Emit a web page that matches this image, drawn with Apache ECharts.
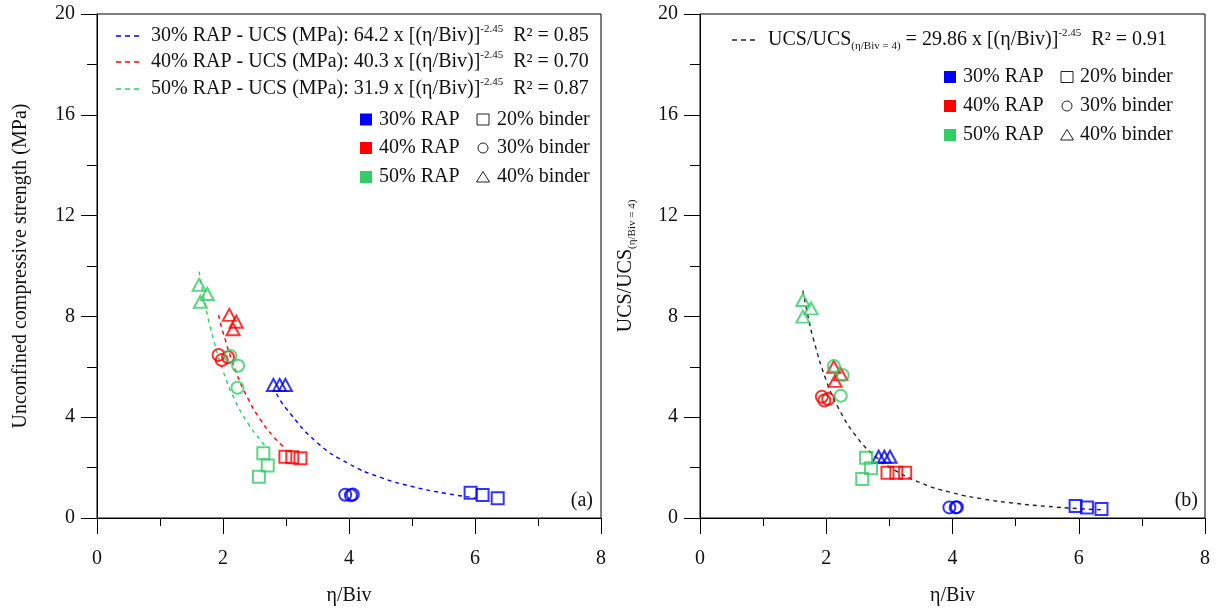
<!DOCTYPE html>
<html><head><meta charset="utf-8">
<script src="https://cdn.jsdelivr.net/npm/echarts@6/dist/echarts.min.js"></script>
<style>html,body{margin:0;padding:0;background:#fff}#c{width:1220px;height:612px}</style>
</head><body><div id="c"></div>
<script>
// ---------- tick labels ----------
const xTicks = [0, 2, 4, 6, 8];
const yTicks = [0, 4, 8, 12, 16, 20];

// ---------- (a) UCS (MPa) ----------
const a_rap30_b20 = [[5.93, 1.00], [6.12, 0.91], [6.36, 0.78]];
const a_rap30_b30 = [[3.94, 0.92], [4.03, 0.90], [4.06, 0.93]];
const a_rap30_b40 = [[2.80, 5.28], [2.90, 5.28], [2.99, 5.28]];
const a_rap40_b20 = [[2.99, 2.43], [3.10, 2.41], [3.23, 2.37]];
const a_rap40_b30 = [[1.93, 6.47], [1.98, 6.27], [2.08, 6.38]];
const a_rap40_b40 = [[2.10, 8.06], [2.21, 7.79], [2.16, 7.49]];
const a_rap50_b20 = [[2.64, 2.57], [2.71, 2.08], [2.57, 1.64]];
const a_rap50_b30 = [[2.12, 6.43], [2.24, 6.04], [2.23, 5.17]];
const a_rap50_b40 = [[1.62, 9.25], [1.75, 8.89], [1.64, 8.58]];
// fitted curves
const a_fit30 = [[2.85, 4.93], [3.0, 4.35], [3.5, 2.98], [4.0, 2.15], [4.5, 1.61], [5.0, 1.25], [5.5, 0.99], [6.0, 0.80]];
const a_fit40 = [[1.93, 8.05], [2.0, 7.37], [2.2, 5.84], [2.4, 4.72], [2.6, 3.88], [2.8, 3.23], [3.0, 2.73]];
const a_fit50 = [[1.62, 9.78], [1.7, 8.69], [1.8, 7.56], [2.0, 5.84], [2.2, 4.62], [2.4, 3.74], [2.6, 3.07], [2.66, 2.90]];

// ---------- (b) UCS / UCS(η/Biv = 4) ----------
const b_rap30_b20 = [[5.95, 0.48], [6.13, 0.42], [6.36, 0.36]];
const b_rap30_b30 = [[3.95, 0.42], [4.05, 0.42], [4.07, 0.43]];
const b_rap30_b40 = [[2.83, 2.43], [2.92, 2.43], [3.01, 2.43]];
const b_rap40_b20 = [[2.97, 1.80], [3.11, 1.80], [3.25, 1.80]];
const b_rap40_b30 = [[1.93, 4.81], [1.97, 4.66], [2.03, 4.72]];
const b_rap40_b40 = [[2.12, 6.00], [2.23, 5.71], [2.14, 5.44]];
const b_rap50_b20 = [[2.63, 2.39], [2.71, 1.97], [2.57, 1.55]];
const b_rap50_b30 = [[2.12, 6.03], [2.26, 5.67], [2.23, 4.85]];
const b_rap50_b40 = [[1.63, 8.65], [1.76, 8.32], [1.63, 7.99]];
const b_fit = [[1.63, 9.02], [1.7, 8.14], [1.8, 7.07], [2.0, 5.46], [2.2, 4.33], [2.5, 3.16], [2.8, 2.39], [3.0, 2.02], [3.5, 1.39], [4.0, 1.00], [4.5, 0.75], [5.0, 0.58], [5.5, 0.46], [6.0, 0.37], [6.4, 0.32]];

const FONT = '"Liberation Serif", "Times New Roman", serif';
const TXT = '#111';
const BLUE = '#0000ff', RED = '#ff0000', GREEN = '#33cc66';

function scatter(data, color, shape, gi) {
  return {
    type: 'scatter', xAxisIndex: gi, yAxisIndex: gi, data: data,
    symbol: shape, symbolSize: shape === 'triangle' ? [13, 12] : 12,
    itemStyle: { color: 'rgba(0,0,0,0)', borderColor: color, borderWidth: 2 },
    z: 4, silent: true
  };
}
function fit(data, color, gi) {
  return {
    type: 'line', xAxisIndex: gi, yAxisIndex: gi, data: data, smooth: true,
    showSymbol: false, symbol: 'none', silent: true, z: 2,
    lineStyle: { color: color, width: 1.4, type: [4, 4] }
  };
}
function xAxis(gi) {
  return {
    type: 'value', gridIndex: gi, min: xTicks[0], max: xTicks[xTicks.length - 1],
    interval: xTicks[1] - xTicks[0],
    name: 'η/Biv', nameLocation: 'middle', nameGap: 68,
    nameTextStyle: { fontFamily: FONT, fontSize: 20, color: TXT },
    axisLine: { show: true, onZero: false, lineStyle: { color: '#000', width: 1 } },
    axisTick: { show: true, inside: false, length: 16, lineStyle: { color: '#000', width: 1 } },
    minorTick: { show: true, splitNumber: 2, length: 8, lineStyle: { color: '#000', width: 1 } },
    axisLabel: { fontFamily: FONT, fontSize: 20, color: TXT, margin: 31 },
    splitLine: { show: false }, minorSplitLine: { show: false }
  };
}
function yAxis(gi, name, rich, gap) {
  return {
    type: 'value', gridIndex: gi, min: yTicks[0], max: yTicks[yTicks.length - 1],
    interval: yTicks[1] - yTicks[0],
    name: name, nameLocation: 'middle', nameGap: gap,
    nameTextStyle: { fontFamily: FONT, fontSize: 20, color: TXT, rich: rich },
    axisLine: { show: true, onZero: false, lineStyle: { color: '#000', width: 1 } },
    axisTick: { show: true, inside: false, length: 16, lineStyle: { color: '#000', width: 1 } },
    minorTick: { show: true, splitNumber: 2, length: 10, lineStyle: { color: '#000', width: 1 } },
    axisLabel: { fontFamily: FONT, fontSize: 20, color: TXT, margin: 22 },
    splitLine: { show: false }, minorSplitLine: { show: false }
  };
}

const mainRich = {
  m: { fontFamily: FONT, fontSize: 20, fill: TXT, color: TXT, lineHeight: 24, verticalAlign: 'middle' },
  s: { fontFamily: FONT, fontSize: 11, fill: TXT, color: TXT, lineHeight: 14, verticalAlign: 'top' },
  sub: { fontFamily: FONT, fontSize: 11, fill: TXT, color: TXT, lineHeight: 14, verticalAlign: 'bottom' }
};

function txt(x, y, text, align) {
  return { type: 'text', silent: true, z: 10,
    style: { x: x, y: y, text: text, rich: mainRich, fontFamily: FONT, fontSize: 20, fill: TXT,
      align: align || 'left', verticalAlign: 'middle', textAlign: align || 'left', textVerticalAlign: 'middle' } };
}
function dashLine(x1, x2, y, color) {
  return { type: 'line', silent: true, z: 10, shape: { x1: x1, y1: y, x2: x2, y2: y },
    style: { stroke: color, lineWidth: 1.3, lineDash: [5, 4] } };
}
function swatch(x, y, color) {
  return { type: 'rect', silent: true, z: 10, shape: { x: x, y: y - 6, width: 12, height: 12 }, style: { fill: color } };
}
function openRect(cx, cy) {
  return { type: 'rect', silent: true, z: 10, shape: { x: cx - 6, y: cy - 5.5, width: 12, height: 11 }, style: { fill: 'none', stroke: '#222', lineWidth: 1 } };
}
function openCircle(cx, cy) {
  return { type: 'circle', silent: true, z: 10, shape: { cx: cx, cy: cy, r: 5 }, style: { fill: 'none', stroke: '#222', lineWidth: 1 } };
}
function openTri(cx, cy) {
  return { type: 'polygon', silent: true, z: 10, shape: { points: [[cx, cy - 5.5], [cx + 6.5, cy + 5], [cx - 6.5, cy + 5]] }, style: { fill: 'none', stroke: '#222', lineWidth: 1 } };
}
function symbolLegend(sx, tx, ox, btx, ys) {
  return [
    swatch(sx, ys[0], BLUE), txt(tx, ys[0], '30% RAP'), openRect(ox, ys[0]), txt(btx, ys[0], '20% binder'),
    swatch(sx, ys[1], RED), txt(tx, ys[1], '40% RAP'), openCircle(ox, ys[1]), txt(btx, ys[1], '30% binder'),
    swatch(sx, ys[2], GREEN), txt(tx, ys[2], '50% RAP'), openTri(ox, ys[2]), txt(btx, ys[2], '40% binder')
  ];
}

const graphics = [].concat(
  [
    dashLine(116, 142, 36, BLUE), txt(151, 36, '{m|30% RAP - UCS (MPa): 64.2 x [(η/Biv)]}{s|-2.45}{m|  R² = 0.85}'),
    dashLine(116, 142, 62, RED), txt(151, 62, '{m|40% RAP - UCS (MPa): 40.3 x [(η/Biv)]}{s|-2.45}{m|  R² = 0.70}'),
    dashLine(116, 142, 89, GREEN), txt(151, 89, '{m|50% RAP - UCS (MPa): 31.9 x [(η/Biv)]}{s|-2.45}{m|  R² = 0.87}'),
    txt(593, 501, '(a)', 'right'),
    dashLine(732, 758, 40, '#222'), txt(768, 40, '{m|UCS/UCS}{sub|(η/Biv = 4)}{m| = 29.86 x [(η/Biv)]}{s|-2.45}{m|  R² = 0.91}'),
    txt(1198, 501, '(b)', 'right')
  ],
  symbolLegend(360, 379, 483, 497, [119.5, 148, 177]),
  symbolLegend(944, 963, 1067, 1080, [77, 106, 135])
);

const chart = echarts.init(document.getElementById('c'), null, { renderer: 'canvas' });
chart.setOption({
  backgroundColor: '#fff',
  animation: false,
  grid: [
    { left: 97, top: 14, width: 504, height: 504, show: true, borderColor: '#000', borderWidth: 1, backgroundColor: 'rgba(0,0,0,0)' },
    { left: 700, top: 14, width: 505, height: 504, show: true, borderColor: '#000', borderWidth: 1, backgroundColor: 'rgba(0,0,0,0)' }
  ],
  xAxis: [xAxis(0), xAxis(1)],
  yAxis: [
    yAxis(0, 'Unconfined compressive strength (MPa)', {}, 66),
    yAxis(1, '{m|UCS/UCS}{sub|(η/Biv = 4)}', {
      m: { fontFamily: FONT, fontSize: 20, color: TXT, lineHeight: 24, verticalAlign: 'middle' },
      sub: { fontFamily: FONT, fontSize: 11, color: TXT, lineHeight: 14, verticalAlign: 'bottom' }
    }, 62)
  ],
  series: [
    fit(a_fit30, BLUE, 0), fit(a_fit40, RED, 0), fit(a_fit50, GREEN, 0),
    scatter(a_rap30_b20, BLUE, 'rect', 0), scatter(a_rap30_b30, BLUE, 'circle', 0), scatter(a_rap30_b40, BLUE, 'triangle', 0),
    scatter(a_rap40_b20, RED, 'rect', 0), scatter(a_rap40_b30, RED, 'circle', 0), scatter(a_rap40_b40, RED, 'triangle', 0),
    scatter(a_rap50_b20, GREEN, 'rect', 0), scatter(a_rap50_b30, GREEN, 'circle', 0), scatter(a_rap50_b40, GREEN, 'triangle', 0),
    fit(b_fit, '#222', 1),
    scatter(b_rap30_b20, BLUE, 'rect', 1), scatter(b_rap30_b30, BLUE, 'circle', 1), scatter(b_rap30_b40, BLUE, 'triangle', 1),
    scatter(b_rap40_b20, RED, 'rect', 1), scatter(b_rap40_b30, RED, 'circle', 1), scatter(b_rap40_b40, RED, 'triangle', 1),
    scatter(b_rap50_b20, GREEN, 'rect', 1), scatter(b_rap50_b30, GREEN, 'circle', 1), scatter(b_rap50_b40, GREEN, 'triangle', 1)
  ],
  graphic: graphics
});
</script>
</body></html>
